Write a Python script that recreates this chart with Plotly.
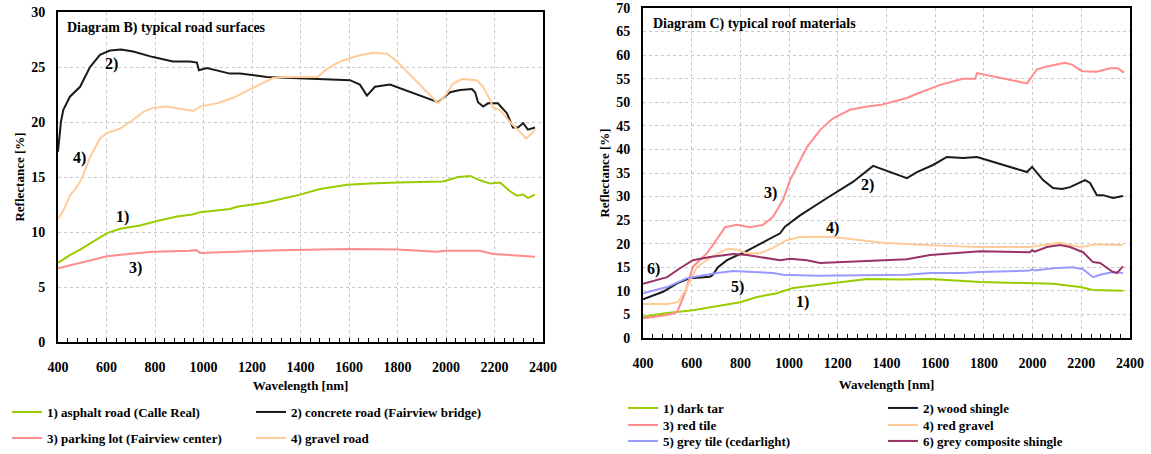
import plotly.graph_objects as go

W, H = 1151, 454

# ---------------- Diagram B: road surfaces ----------------
asphalt_wl = [400, 449, 491, 545, 602, 656, 738, 808, 891, 953, 986, 1109, 1138, 1261, 1398, 1480, 1592,
              1687, 1798, 1988, 2050, 2100, 2140, 2182, 2223, 2264, 2293, 2318, 2338, 2367]
asphalt = [7.2, 7.9, 8.4, 9.1, 9.9, 10.3, 10.6, 11.0, 11.4, 11.6, 11.8, 12.1, 12.3, 12.7, 13.4, 13.9, 14.3,
           14.4, 14.5, 14.6, 15.0, 15.1, 14.7, 14.4, 14.5, 13.7, 13.3, 13.4, 13.1, 13.4]

concrete_wl = [400, 405, 412, 422, 449, 491, 532, 573, 614, 660, 710, 792, 874, 944, 973, 981, 1014, 1109,
               1150, 1261, 1398, 1452, 1604, 1645, 1674, 1707, 1769, 1967, 2017, 2058, 2107, 2120, 2132,
               2153, 2173, 2214, 2251, 2276, 2297, 2318, 2338, 2367]
concrete = [17.3, 18.4, 20.0, 21.1, 22.3, 23.2, 25.0, 26.1, 26.5, 26.6, 26.4, 25.9, 25.5, 25.5, 25.4, 24.7,
            24.9, 24.4, 24.4, 24.1, 24.0, 23.9, 23.8, 23.4, 22.4, 23.2, 23.4, 21.8, 22.7, 22.9, 23.0, 22.7,
            21.8, 21.4, 21.7, 21.7, 20.8, 19.5, 19.5, 19.9, 19.3, 19.5]

parking_wl = [400, 491, 602, 710, 792, 944, 970, 986, 1122, 1315, 1480, 1604, 1798, 1963, 2000, 2111, 2140,
              2194, 2276, 2367]
parking = [6.7, 7.2, 7.8, 8.05, 8.2, 8.3, 8.35, 8.1, 8.2, 8.35, 8.4, 8.45, 8.4, 8.2, 8.3, 8.35, 8.3, 8.0,
           7.9, 7.75]

gravel_wl = [400, 421, 449, 475, 499, 532, 573, 602, 656, 710, 751, 792, 849, 932, 957, 986, 1056, 1122,
             1204, 1287, 1328, 1472, 1501, 1563, 1633, 1699, 1757, 1798, 1967, 2004, 2029, 2066, 2128, 2153,
             2182, 2194, 2223, 2264, 2305, 2330, 2355, 2367]
gravel = [11.2, 11.9, 13.3, 14.0, 14.9, 16.8, 18.5, 19.0, 19.4, 20.2, 20.9, 21.3, 21.4, 21.1, 21.0, 21.4,
          21.7, 22.2, 23.1, 24.0, 24.1, 24.1, 24.7, 25.5, 26.0, 26.3, 26.2, 25.5, 21.7, 22.6, 23.5, 23.9,
          23.8, 23.2, 22.0, 21.3, 21.1, 20.0, 19.1, 18.5, 19.0, 19.3]

# ---------------- Diagram C: roof materials ----------------
tar_wl = [400, 499, 605, 687, 799, 868, 950, 1016, 1114, 1209, 1320, 1455, 1579, 1784, 1989, 2084, 2195,
          2248, 2371]
tar = [4.5, 5.3, 5.9, 6.6, 7.6, 8.7, 9.5, 10.6, 11.2, 11.9, 12.5, 12.4, 12.5, 11.9, 11.6, 11.5, 10.8,
       10.2, 10.0]

wood_wl = [400, 482, 540, 593, 675, 687, 708, 745, 827, 909, 963, 983, 1045, 1156, 1262, 1345, 1484, 1525,
           1591, 1648, 1714, 1772, 1977, 1998, 2043, 2084, 2121, 2154, 2215, 2236, 2264, 2289, 2330, 2371]
wood = [8.2, 9.8, 11.6, 12.7, 13.0, 13.4, 15.0, 16.5, 18.5, 20.8, 22.2, 23.6, 26.0, 29.7, 33.1, 36.5, 33.9,
        35.2, 36.7, 38.4, 38.2, 38.4, 35.2, 36.3, 33.5, 31.8, 31.6, 32.0, 33.5, 32.9, 30.3, 30.3, 29.7, 30.1]

redtile_wl = [400, 499, 540, 572, 605, 663, 696, 737, 786, 840, 893, 934, 975, 1004, 1073, 1127, 1180, 1250,
              1320, 1373, 1484, 1525, 1620, 1714, 1764, 1772, 1977, 2018, 2059, 2133, 2162, 2203, 2264,
              2318, 2351, 2375]
redtile = [4.2, 4.9, 5.5, 9.5, 15.1, 18.0, 20.4, 23.5, 24.0, 23.5, 24.0, 25.7, 29.3, 33.5, 40.5, 44.1,
           46.6, 48.4, 49.1, 49.4, 50.9, 51.8, 53.7, 55.0, 55.0, 56.2, 54.0, 57.0, 57.6, 58.4, 58.0, 56.6,
           56.5, 57.2, 57.2, 56.3]

redgravel_wl = [400, 499, 544, 581, 622, 675, 745, 786, 827, 880, 934, 992, 1045, 1114, 1180, 1291, 1386,
                1579, 1784, 1989, 2113, 2195, 2264, 2371]
redgravel = [7.2, 7.2, 7.6, 10.8, 15.1, 17.0, 18.9, 18.7, 18.0, 18.0, 19.1, 20.8, 21.4, 21.5, 21.4, 20.8,
             20.2, 19.7, 19.3, 19.3, 20.2, 19.3, 19.9, 19.7]

greytile_wl = [400, 499, 581, 634, 704, 770, 840, 934, 975, 1114, 1484, 1579, 1714, 1784, 1989, 1998, 2009,
               2084, 2166, 2207, 2248, 2277, 2330, 2371]
greytile = [9.5, 10.8, 12.7, 13.2, 13.8, 14.2, 14.0, 13.8, 13.4, 13.2, 13.4, 13.8, 13.8, 14.0, 14.3, 14.6,
            14.3, 14.8, 15.0, 14.6, 12.9, 13.4, 14.0, 13.8]

composite_wl = [400, 499, 552, 605, 675, 770, 827, 909, 963, 1004, 1073, 1127, 1209, 1320, 1484, 1579, 1784,
                1989, 1998, 2009, 2059, 2113, 2154, 2207, 2248, 2277, 2330, 2347, 2371]
composite = [11.5, 12.9, 14.8, 16.5, 17.2, 17.8, 17.6, 17.0, 16.5, 16.8, 16.5, 15.9, 16.1, 16.3, 16.7, 17.6,
             18.4, 18.2, 18.6, 18.3, 19.3, 19.7, 19.3, 18.2, 16.1, 15.9, 14.0, 13.8, 15.2]

road_names = ["1) asphalt road (Calle Real)", "2) concrete road (Fairview bridge)",
              "3) parking lot (Fairview center)", "4) gravel road"]
roof_names = ["1) dark tar", "2) wood shingle", "3) red tile", "4) red gravel",
              "5) grey tile (cedarlight)", "6) grey composite shingle"]

GREEN, BLACK, PINK, ORANGE, BLUE, PURPLE = "#99CC00", "#1a1a1a", "#FF8C8C", "#FFCC99", "#9999FF", "#993366"
FONT = "'Liberation Serif', 'Times New Roman', Times, serif"

fig = go.Figure()

road_series = [(asphalt_wl, asphalt, GREEN, "legend"), (concrete_wl, concrete, BLACK, "legend"),
               (parking_wl, parking, PINK, "legend2"), (gravel_wl, gravel, ORANGE, "legend2")]
for (wl, v, c, lg), nm in zip(road_series, road_names):
    fig.add_trace(go.Scatter(x=wl, y=v, name=nm, mode="lines", line=dict(color=c, width=2),
                             xaxis="x", yaxis="y", legend=lg))

roof_series = [(tar_wl, tar, GREEN, "legend3"), (wood_wl, wood, BLACK, "legend3"),
               (redtile_wl, redtile, PINK, "legend4"), (redgravel_wl, redgravel, ORANGE, "legend4"),
               (greytile_wl, greytile, BLUE, "legend5"), (composite_wl, composite, PURPLE, "legend5")]
for (wl, v, c, lg), nm in zip(roof_series, roof_names):
    fig.add_trace(go.Scatter(x=wl, y=v, name=nm, mode="lines", line=dict(color=c, width=2),
                             xaxis="x2", yaxis="y2", legend=lg))

tickfont = dict(family=FONT, size=14, color="black", weight=700)
titlefont = dict(family=FONT, size=13, color="black", weight=700)


def xax(domain, anchor, so):
    return dict(domain=domain, anchor=anchor, range=[400, 2400], dtick=200, tick0=400,
                showline=True, linewidth=2, linecolor="black", mirror=True,
                showgrid=True, gridcolor="#C8C8C8", griddash="dot", gridwidth=1,
                ticks="inside", ticklen=4, tickcolor="black", tickwidth=1,
                minor=dict(ticks="inside", dtick=40, ticklen=4, tickcolor="black", showgrid=False),
                tickfont=tickfont, ticklabelstandoff=11, zeroline=False,
                automargin=True,
                title=dict(text="Wavelength [nm]", font=titlefont, standoff=so))


def yax(domain, anchor, rng, so):
    return dict(domain=domain, anchor=anchor, range=rng, dtick=5,
                showline=True, linewidth=2, linecolor="black", mirror=True,
                showgrid=True, gridcolor="#C8C8C8", griddash="dot", gridwidth=1,
                ticks="", tickfont=tickfont, ticklabelstandoff=8, zeroline=False,
                automargin=True,
                title=dict(text="Reflectance [%]", font=titlefont, standoff=so))


legfont = dict(family=FONT, size=13, color="black", weight=700)


def leg(x, y, ew):
    return dict(orientation="h", x=x, y=y, xanchor="left", yanchor="middle", xref="paper", yref="paper",
                entrywidth=ew, entrywidthmode="pixels", font=legfont, bgcolor="rgba(0,0,0,0)",
                borderwidth=0, tracegroupgap=0)


fig.update_layout(
    width=W, height=H, margin=dict(l=0, r=0, t=0, b=0, autoexpand=False),
    paper_bgcolor="white", plot_bgcolor="white",
    font=dict(family=FONT, size=13, color="black", weight=700),
    xaxis=xax([58 / W, 543 / W], "y", 7),
    yaxis=yax([1 - 342 / H, 1 - 12 / H], "x", [0, 30], 4),
    xaxis2=xax([643 / W, 1130 / W], "y2", 10),
    yaxis2=yax([1 - 338 / H, 1 - 8 / H], "x2", [0, 70], 4),
    legend=leg(7 / W, 1 - 412 / H, 199),
    legend2=leg(7 / W, 1 - 438 / H, 199),
    legend3=leg(623 / W, 1 - 408 / H, 215),
    legend4=leg(623 / W, 1 - 425 / H, 215),
    legend5=leg(623 / W, 1 - 441 / H, 215),
    showlegend=True,
)

annots = [
    dict(text="Diagram B) typical road surfaces", x=65 / W, y=1 - 28 / H, xref="paper", yref="paper",
         xanchor="left", yanchor="middle", showarrow=False, font=dict(family=FONT, size=14, weight=700)),
    dict(text="Diagram C) typical roof materials", x=651 / W, y=1 - 24 / H, xref="paper", yref="paper",
         xanchor="left", yanchor="middle", showarrow=False, font=dict(family=FONT, size=14, weight=700)),
]
road_labels = [("2)", 620, 25.3), ("4)", 487, 16.7), ("1)", 664, 11.4), ("3)", 718, 6.7)]
for t, xv, yv in road_labels:
    annots.append(dict(text=t, x=xv, y=yv, xref="x", yref="y", showarrow=False,
                       font=dict(family=FONT, size=16, weight=700, color="black")))
roof_labels = [("3)", 922, 30.8), ("2)", 1324, 32.5), ("4)", 1180, 23.3), ("6)", 445, 14.6),
               ("5)", 790, 10.8), ("1)", 1053, 7.6)]
for t, xv, yv in roof_labels:
    annots.append(dict(text=t, x=xv, y=yv, xref="x2", yref="y2", showarrow=False,
                       font=dict(family=FONT, size=16, weight=700, color="black")))
fig.update_layout(annotations=annots)

fig.write_html("out.html")
